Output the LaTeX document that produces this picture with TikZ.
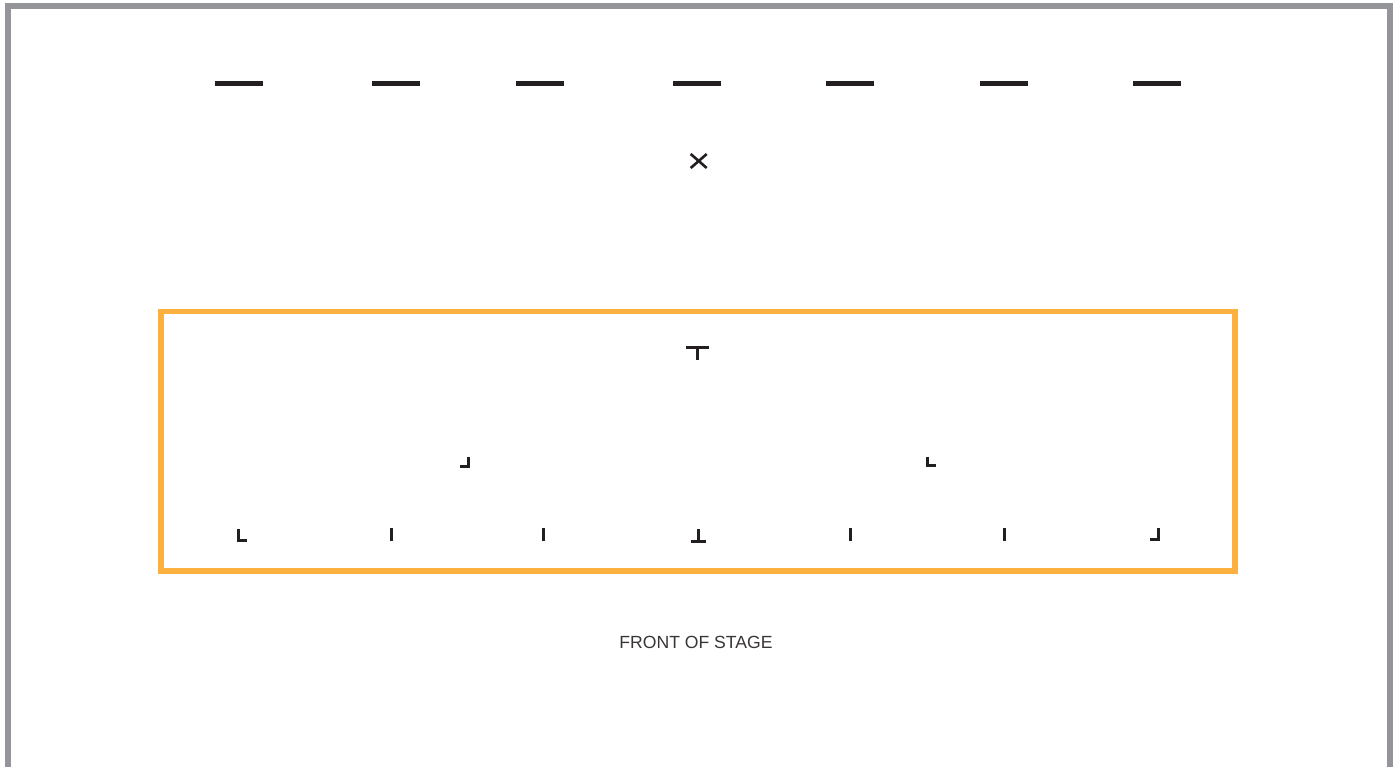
\documentclass[tikz,border=0pt]{standalone}
\usepackage{fontspec}
\setmainfont{Liberation Sans}
\definecolor{framegray}{HTML}{939598}
\definecolor{stageorange}{HTML}{FBB040}
\definecolor{markblack}{HTML}{231F20}
\begin{document}
\begin{tikzpicture}[x=1pt,y=-1pt,
  dashbar/.style={draw=markblack,line width=5pt},
  markline/.style={draw=markblack,line width=3pt},
  frameline/.style={draw=framegray,line width=6pt},
  stagebox/.style={draw=stageorange,line width=5.5pt}]
\useasboundingbox[fill=white] (0,0) rectangle (1395,767);
\begin{scope}
\clip (0,0) rectangle (1395,767);
\draw[frameline] (8,790) -- (8,6.3) -- (1389.5,6.3) -- (1389.5,790);
\end{scope}
% stage box
\draw[stagebox] (161,311.7) rectangle (1235,571);
% top dashes
\foreach \cx in {239,396,540,697,850,1004,1157}{
  \draw[dashbar] (\cx-24,83.3) -- (\cx+24,83.3);
}
% X mark
\draw[markline,line width=2.6pt] (690.7,154) -- (706.7,168);
\draw[markline,line width=2.6pt] (690.7,168) -- (706.7,154);
% T mark
\draw[markline] (686,347.5) -- (709,347.5);
\draw[markline] (697.5,347.5) -- (697.5,360);
% corner marks middle row
\draw[markline] (460,466) -- (468.3,466) -- (468.3,457);
\draw[markline] (927.7,457) -- (927.7,465.7) -- (936,465.7);
% bottom row
\draw[markline] (238.3,529) -- (238.3,540.8) -- (246.7,540.8);
\foreach \cx in {391,543,850,1004}{
  \draw[markline] (\cx,528.3) -- (\cx,541);
}
\draw[markline] (698.3,529) -- (698.3,541);
\draw[markline] (690.7,541) -- (706,541);
\draw[markline] (1150,539.7) -- (1158,539.7) -- (1158,528.3);
% label
\node[font=\fontsize{17.6}{20}\selectfont,text=markblack!90,inner sep=0pt] (front) at (696,642.5) {FRONT OF STAGE};
\end{tikzpicture}
\end{document}
